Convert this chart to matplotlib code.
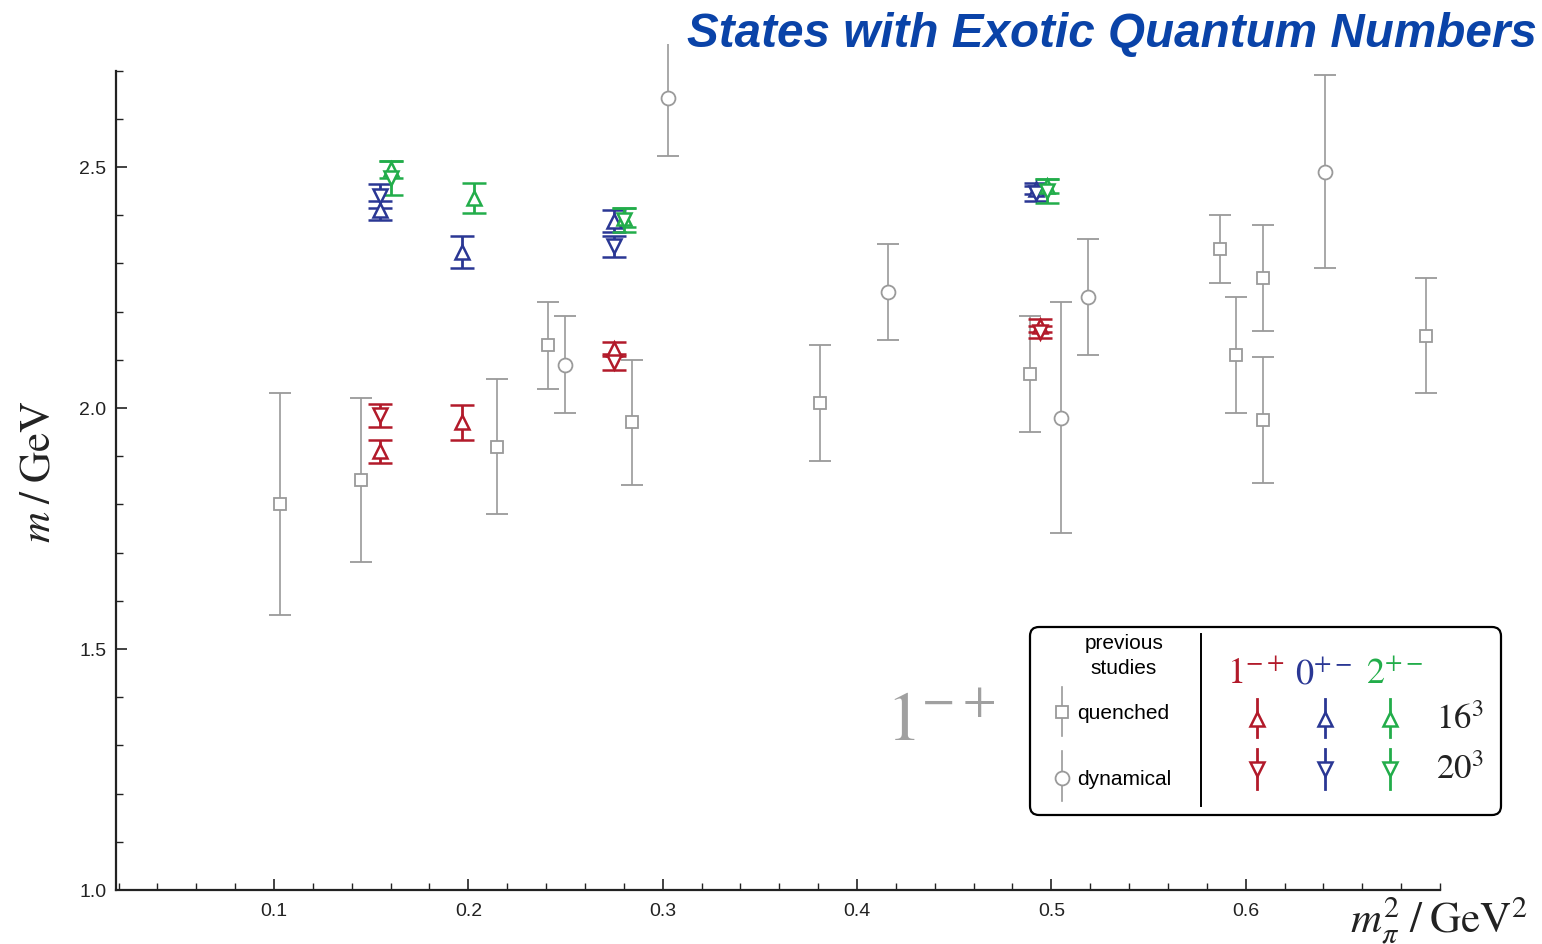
import matplotlib
matplotlib.use("Agg")
import matplotlib.pyplot as plt
from matplotlib.patches import FancyBboxPatch
from matplotlib.ticker import MultipleLocator, FixedLocator

plt.rcParams['font.family'] = ['Liberation Sans', 'DejaVu Sans']
plt.rcParams['mathtext.fontset'] = 'stix'

# previous studies (quenched: squares, dynamical: circles)
quench_x = [0.103, 0.145, 0.215, 0.241, 0.284, 0.381, 0.489, 0.587, 0.595, 0.609, 0.609, 0.693]
quench_m = [1.80, 1.85, 1.92, 2.13, 1.97, 2.01, 2.07, 2.33, 2.11, 2.27, 1.975, 2.15]
quench_err = [0.23, 0.17, 0.14, 0.09, 0.13, 0.12, 0.12, 0.07, 0.12, 0.11, 0.13, 0.12]

dyn_x = [0.250, 0.303, 0.416, 0.505, 0.519, 0.641]
dyn_m = [2.09, 2.643, 2.24, 1.98, 2.23, 2.49]
dyn_err = [0.10, 0.12, 0.10, 0.24, 0.12, 0.20]

# this work: 16^3 (up triangles) and 20^3 (down triangles)
red16_x = [0.1546, 0.197, 0.275, 0.494]
red16_m = [1.91, 1.97, 2.122, 2.171]
red16_err = [0.024, 0.036, 0.015, 0.0135]
red20_x = [0.1546, 0.275, 0.494]
red20_m = [1.985, 2.095, 2.158]
red20_err = [0.024, 0.017, 0.0125]

blue16_x = [0.1546, 0.197, 0.275, 0.492]
blue16_m = [2.41, 2.324, 2.388, 2.455]
blue16_err = [0.02, 0.033, 0.023, 0.012]
blue20_x = [0.1546, 0.275, 0.492]
blue20_m = [2.44, 2.335, 2.445]
blue20_err = [0.025, 0.022, 0.016]

green16_x = [0.160, 0.203, 0.280, 0.498]
green16_m = [2.495, 2.436, 2.395, 2.46]
green16_err = [0.018, 0.031, 0.02, 0.015]
green20_x = [0.160, 0.280, 0.498]
green20_m = [2.477, 2.39, 2.45]
green20_err = [0.035, 0.025, 0.025]

GRAY = '#9a9a9a'
RED = '#b21a2a'
BLUE = '#2a3794'
GREEN = '#22ad4a'
TITLE_BLUE = '#0a43a8'

fig = plt.figure(figsize=(15.42, 9.45), dpi=100)
ax = fig.add_axes([116 / 1542, 54 / 945, 1324 / 1542, 846 / 945])

gray_kw = dict(color=GRAY, mfc='white', mec=GRAY, mew=1.3, elinewidth=1.2,
               capsize=8, capthick=1.2, zorder=2)
ax.errorbar(quench_x, quench_m, yerr=quench_err, fmt='s', ms=8.5, **gray_kw)
ax.errorbar(dyn_x, dyn_m, yerr=dyn_err, fmt='o', ms=10, **gray_kw)

series = [
    (red16_x, red16_m, red16_err, RED, '^'),
    (red20_x, red20_m, red20_err, RED, 'v'),
    (blue16_x, blue16_m, blue16_err, BLUE, '^'),
    (blue20_x, blue20_m, blue20_err, BLUE, 'v'),
    (green16_x, green16_m, green16_err, GREEN, '^'),
    (green20_x, green20_m, green20_err, GREEN, 'v'),
]
for x, m, e, c, mk in series:
    ax.errorbar(x, m, yerr=e, fmt=mk, color=c, mfc='white', mec=c, ms=9.5,
                mew=1.8, elinewidth=2.0, capsize=8.3, capthick=2.4, zorder=3)

ax.set_xlim(0.0187, 0.70)
ax.set_ylim(1.0, 2.755)
for s in ['top', 'right']:
    ax.spines[s].set_visible(False)
ax.spines['left'].set_bounds(1.0, 2.70)
for s in ['left', 'bottom']:
    ax.spines[s].set_linewidth(1.6)
    ax.spines[s].set_color('#222222')

ax.xaxis.set_major_locator(FixedLocator([0.1, 0.2, 0.3, 0.4, 0.5, 0.6]))
ax.xaxis.set_minor_locator(MultipleLocator(0.02))
ax.yaxis.set_major_locator(FixedLocator([1.0, 1.5, 2.0, 2.5]))
ax.yaxis.set_minor_locator(FixedLocator([1.0 + 0.1 * i for i in range(18)]))
ax.set_xticklabels(['0.1', '0.2', '0.3', '0.4', '0.5', '0.6'])
ax.set_yticklabels(['1.0', '1.5', '2.0', '2.5'])
ax.tick_params(which='both', direction='in', colors='#222222', labelsize=14)
ax.tick_params(which='major', length=8, width=1.2)
ax.tick_params(which='minor', length=5, width=1.0)
ax.tick_params(axis='x', which='major', pad=9)
ax.tick_params(axis='y', which='major', pad=7)

fig.text(38 / 1542, 1 - 472 / 945, r'$m\;/\;\mathrm{GeV}$', rotation=90,
         ha='center', va='center', fontsize=31, color='#222222')
fig.text(1528 / 1542, 1 - 933 / 945, r'$m_\pi^2\;/\;\mathrm{GeV}^2$',
         ha='right', va='baseline', fontsize=31, color='#222222')
fig.text(1537 / 1542, 1 - 47 / 945, 'States with Exotic Quantum Numbers',
         ha='right', va='baseline', fontsize=34.3, fontweight='bold',
         fontstyle='italic', color=TITLE_BLUE)
fig.text(886 / 1542, 1 - 741 / 945, r'$1^{-+}$', ha='left', va='baseline',
         fontsize=50, color='#a0a0a0')

# legend box
lax = fig.add_axes([1028 / 1542, 127 / 945, 475 / 1542, 192 / 945])
lax.set_xlim(0, 475)
lax.set_ylim(192, 0)
lax.axis('off')
lax.add_patch(FancyBboxPatch((2, 2), 471, 188, boxstyle='round,pad=0,rounding_size=9',
                             fc='white', ec='black', lw=1.6, clip_on=False))
lax.text(96, 30, 'previous\nstudies', ha='center', va='center', fontsize=15,
         linespacing=1.4)
lax.plot([34, 34], [62, 111], color=GRAY, lw=1.2)
lax.plot([34], [87], 's', ms=8.5, mfc='white', mec=GRAY, mew=1.3)
lax.text(49, 88, 'quenched', ha='left', va='center', fontsize=15)
lax.plot([34, 34], [126, 176], color=GRAY, lw=1.2)
lax.plot([34], [153], 'o', ms=10, mfc='white', mec=GRAY, mew=1.3)
lax.text(49, 154, 'dynamical', ha='left', va='center', fontsize=15)
lax.plot([173, 173], [9, 181], color='black', lw=1.4)

head_x = [199, 267, 338]
mark_x = [229, 297, 362]
labels = [r'$1^{-+}$', r'$0^{+-}$', r'$2^{+-}$']
for hx, mx, lab, c in zip(head_x, mark_x, labels, [RED, BLUE, GREEN]):
    lax.text(hx, 58, lab, ha='left', va='baseline', fontsize=26, color=c)
    lax.plot([mx, mx], [74, 112], color=c, lw=2.0)
    lax.plot([mx], [94], '^', ms=9.5, mfc='white', mec=c, mew=1.8)
    lax.plot([mx, mx], [124, 164], color=c, lw=2.0)
    lax.plot([mx], [144], 'v', ms=9.5, mfc='white', mec=c, mew=1.8)
lax.text(408, 94, r'$16^3$', ha='left', va='center', fontsize=25, color='#222222')
lax.text(408, 144, r'$20^3$', ha='left', va='center', fontsize=25, color='#222222')

fig.savefig('out.png', dpi=100)
